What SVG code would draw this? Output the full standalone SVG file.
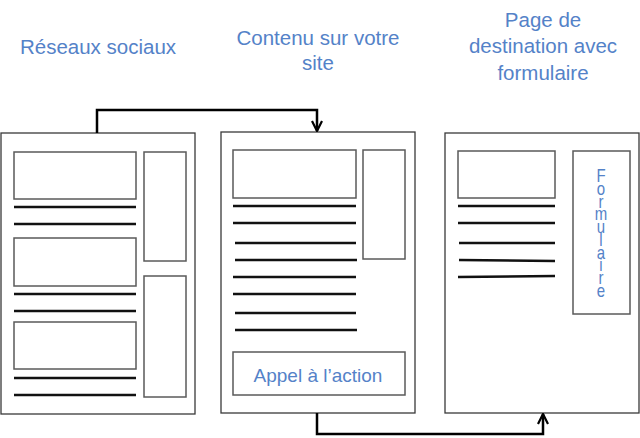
<svg xmlns="http://www.w3.org/2000/svg" width="640" height="438" viewBox="0 0 640 438">
<style>
.page{fill:#fff;stroke:#3a3a3a;stroke-width:1.3}
.box{fill:#fff;stroke:#5a5a5a;stroke-width:1.5}
.ln{stroke:#111;stroke-width:2.5;fill:none}
.t{font-family:"Liberation Sans",Arial,sans-serif;fill:#5482c8;text-anchor:middle}
.title{font-size:20.5px}
.conn{fill:none;stroke:#000;stroke-width:2.5}
</style>
<defs>
<marker id="arr" viewBox="0 0 12 12" refX="11" refY="6" markerWidth="12" markerHeight="12" markerUnits="userSpaceOnUse" orient="auto">
<path d="M1,1 L11,6 L1,11" fill="none" stroke="#000" stroke-width="2.2"/>
</marker>
</defs>
<rect width="640" height="438" fill="#fff"/>

<g id="titles">
<text class="t title" x="98" y="54">Réseaux sociaux</text>
<text class="t title" x="318" y="45">Contenu sur votre</text>
<text class="t title" x="318" y="70">site</text>
<text class="t title" x="543" y="27">Page de</text>
<text class="t title" x="543" y="53">destination avec</text>
<text class="t title" x="543" y="80">formulaire</text>
</g>

<g id="page-reseaux">
<rect class="page" x="1" y="133" width="194" height="281"/>
<rect class="box" x="14" y="152" width="122" height="47"/>
<rect class="box" x="14" y="238" width="122" height="48"/>
<rect class="box" x="14" y="322" width="122" height="47"/>
<rect class="box" x="144" y="152" width="42" height="109"/>
<rect class="box" x="144" y="276" width="42" height="121"/>
<path class="ln" d="M14,207H136M14,224H136M14,294H136M14,311H136M14,378H136M14,395H136"/>
</g>

<g id="page-contenu">
<rect class="page" x="221" y="132" width="194" height="281"/>
<rect class="box" x="233" y="150" width="123" height="48"/>
<rect class="box" x="363" y="150" width="42" height="109"/>
<path class="ln" d="M233,206H356M233,223H356M235,243H356M235,260H357M233,277H356M233,294H356M235,313H356M235,330H357"/>
<rect class="box" x="233" y="352" width="172" height="43"/>
<text class="t" x="318" y="382" font-size="19">Appel à l’action</text>
</g>

<g id="page-destination">
<rect class="page" x="445" y="133" width="194" height="280"/>
<rect class="box" x="458" y="151" width="97" height="47"/>
<rect class="box" x="573" y="151" width="57" height="163"/>
<path class="ln" d="M458,206H555M458,223H555M459,243H555M459,260L555,261M458,277L555,276"/>
<text class="t" x="0" y="0" transform="translate(601,166) scale(1,1.2)" font-size="15" letter-spacing="-6.6" style="writing-mode:vertical-rl;text-orientation:upright;text-anchor:start">Formulaire</text>
</g>

<g id="connectors">
<path class="conn" d="M97,133V110H317V131" marker-end="url(#arr)"/>
<path class="conn" d="M317,413V434H543V414" marker-end="url(#arr)"/>
</g>
</svg>
